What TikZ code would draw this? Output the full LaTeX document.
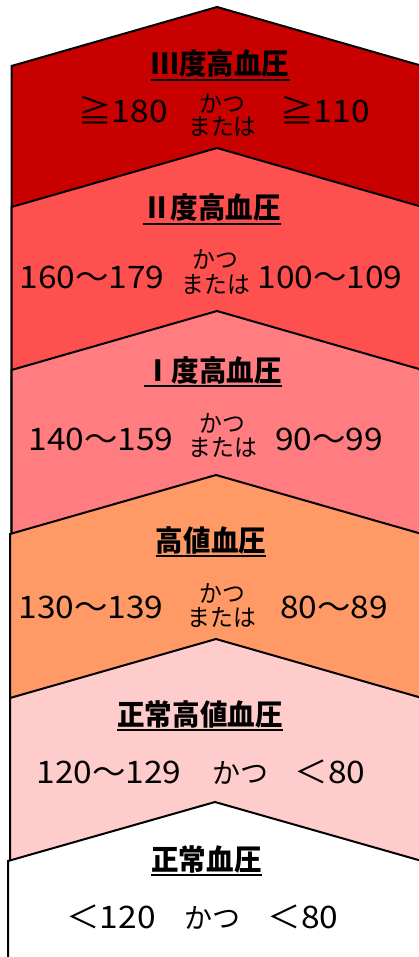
\documentclass[tikz,border=0pt]{standalone}
\usepackage{fontspec}
\setmainfont{Noto Sans CJK JP}
\newfontfamily\numfont{Noto Sans CJK JP}[FakeStretch=1.08]
\newfontfamily\ttlfont{Noto Sans CJK JP}[FakeStretch=0.95]
\newfontfamily\smlfont{Noto Sans CJK JP}[FakeStretch=0.95]
\definecolor{cA}{HTML}{C80000}
\definecolor{cB}{HTML}{FF5050}
\definecolor{cC}{HTML}{FF7C80}
\definecolor{cD}{HTML}{FF9966}
\definecolor{cE}{HTML}{FFCCCC}
\definecolor{cF}{HTML}{FFFFFF}
\tikzset{
  band/.style={draw=black, line width=2pt, line join=miter},
  ttl/.style={inner sep=0pt, anchor=base, font=\ttlfont\fontsize{29}{29}\selectfont\bfseries},
  num/.style={inner sep=0pt, anchor=base, font=\numfont\fontsize{31}{31}\selectfont},
  sml/.style={inner sep=0pt, anchor=base, font=\smlfont\fontsize{24}{24}\selectfont},
  kana/.style={inner sep=0pt, anchor=base, font=\fontsize{28}{28}\selectfont},
  ul/.style={line width=1.8pt}
}
\newcommand\chev[4]{% apex x, apex y, left x, fill
  \pgfmathsetmacro\rx{2*#1-#3}
  \fill[#4] (#3,970) -- (#3,#2+59) -- (#1,#2) -- (\rx,#2+59) -- (\rx,970) -- cycle;
  \draw[band] (#3,970) -- (#3,#2+59) -- (#1,#2) -- (\rx,#2+59);
}
\begin{document}
\begin{tikzpicture}[x=1pt,y=-1pt]
\useasboundingbox (0,0) rectangle (419,957);
\fill[white] (0,0) rectangle (419,957);
\begin{scope}
\clip (0,0) rectangle (419,957);
\chev{217}{7}{11.5}{cA}
\chev{217}{148}{11.5}{cB}
\chev{217}{311}{11.5}{cC}
\chev{216}{475}{10}{cD}
\chev{216}{639}{10}{cE}
\chev{215}{802}{8}{cF}
\end{scope}

% Section 1
\node[ttl] (t1) at (220.5,75) {Ⅲ度高血圧};
\draw[ul] ([yshift=-5pt]t1.base west) -- ([yshift=-5pt]t1.base east);
\node[num] (a1) at (123,123) {≧180};
\node[sml] (k1) at (222,113) {かつ};
\node[sml] (m1) at (222.5,136) {または};
\node[num] (b1) at (325,123) {≧110};

% Section 2
\node[ttl] (t2) at (212,219) {Ⅱ度高血圧};
\draw[ul] ([yshift=-5pt]t2.base west) -- ([yshift=-5pt]t2.base east);
\node[num] (a2) at (92,288) {160～179};
\node[sml] (k2) at (215,269) {かつ};
\node[sml] (m2) at (216,294) {または};
\node[num] (b2) at (330,288) {100～109};

% Section 3
\node[ttl] (t3) at (213,381) {Ⅰ度高血圧};
\draw[ul] ([yshift=-5pt]t3.base west) -- ([yshift=-5pt]t3.base east);
\node[num] (a3) at (101,450) {140～159};
\node[sml] (k3) at (222,432) {かつ};
\node[sml] (m3) at (223,456) {または};
\node[num] (b3) at (329,450) {90～99};

% Section 4
\node[ttl] (t4) at (211,551) {高値血圧};
\draw[ul] ([yshift=-5pt]t4.base west) -- ([yshift=-5pt]t4.base east);
\node[num] (a4) at (91,618) {130～139};
\node[sml] (k4) at (222,602) {かつ};
\node[sml] (m4) at (222,626) {または};
\node[num] (b4) at (334,618) {80～89};

% Section 5
\node[ttl] (t5) at (200,725) {正常高値血圧};
\draw[ul] ([yshift=-5pt]t5.base west) -- ([yshift=-5pt]t5.base east);
\node[num] (a5) at (109,783) {120～129};
\node[kana] (k5) at (240,783) {かつ};
\node[num] (b5) at (330,783) {＜80};

% Section 6
\node[ttl] (t6) at (206.5,870) {正常血圧};
\draw[ul] ([yshift=-5pt]t6.base west) -- ([yshift=-5pt]t6.base east);
\node[num] (a6) at (111,928) {＜120};
\node[kana] (k6) at (212.5,928) {かつ};
\node[num] (b6) at (303,928) {＜80};
\end{tikzpicture}
\end{document}
